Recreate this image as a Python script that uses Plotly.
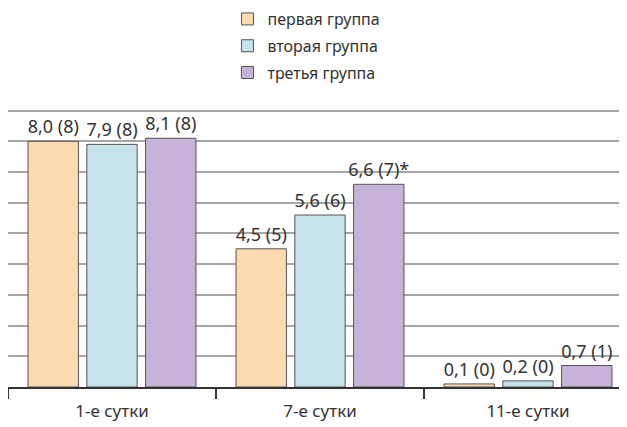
import plotly.graph_objects as go

categories = ["1-е сутки", "7-е сутки", "11-е сутки"]
series_names = ["первая группа", "вторая группа", "третья группа"]
values_g1 = [8.0, 4.5, 0.1]
values_g2 = [7.9, 5.6, 0.2]
values_g3 = [8.1, 6.6, 0.7]
counts_g1 = [8, 5, 0]
counts_g2 = [8, 6, 0]
counts_g3 = [8, 7, 1]
marks_g1 = ["", "", ""]
marks_g2 = ["", "", ""]
marks_g3 = ["", "*", ""]

colors = ["#FDDAB0", "#C6E3EA", "#C5B4D8"]

def labels(vals, cnts, marks):
    return [f"{v:.1f}".replace(".", ",") + f" ({c})" + m for v, c, m in zip(vals, cnts, marks)]

fig = go.Figure()
for i, (name, vals, cnts, mks) in enumerate([
    (series_names[0], values_g1, counts_g1, marks_g1),
    (series_names[1], values_g2, counts_g2, marks_g2),
    (series_names[2], values_g3, counts_g3, marks_g3),
]):
    fig.add_trace(go.Bar(
        x=categories, y=vals, name=name, legendgroup=name,
        marker=dict(color=colors[i], line=dict(color="#555555", width=1)),
        text=labels(vals, cnts, mks), textposition="outside",
        textfont=dict(family="Noto Sans", size=18, color="#333333"),
        cliponaxis=False, constraintext="none",
    ))

fig.update_layout(
    width=627, height=427,
    margin=dict(l=0, r=0, t=98, b=48, autoexpand=False),
    paper_bgcolor="white", plot_bgcolor="white",
    barmode="group", bargap=0.1525, bargroupgap=0.143,
    font=dict(family="Noto Sans", color="#333333"),
    showlegend=True,
    legend=dict(
        x=0.35, xanchor="left", y=1.37, yanchor="top", yref="paper",
        font=dict(size=16, color="#333333"), tracegroupgap=3,
        bgcolor="rgba(0,0,0,0)",
    ),
    xaxis=dict(
        type="category", range=[-0.5, -0.5 + 627 / 208], tickson="boundaries",
        ticks="outside", ticklen=10, tickwidth=2, tickcolor="#333333",
        showline=True, linecolor="#333333", linewidth=2, showgrid=False,
        tickfont=dict(size=17, color="#333333"), automargin=False,
        ticklabelstandoff=8,
    ),
    yaxis=dict(
        range=[0, 9.15], dtick=1, showgrid=True, gridcolor="#A6A6A6", gridwidth=2,
        showticklabels=False, zeroline=False, showline=False, ticks="",
        automargin=False,
    ),
)

fig.write_html("out.html")
